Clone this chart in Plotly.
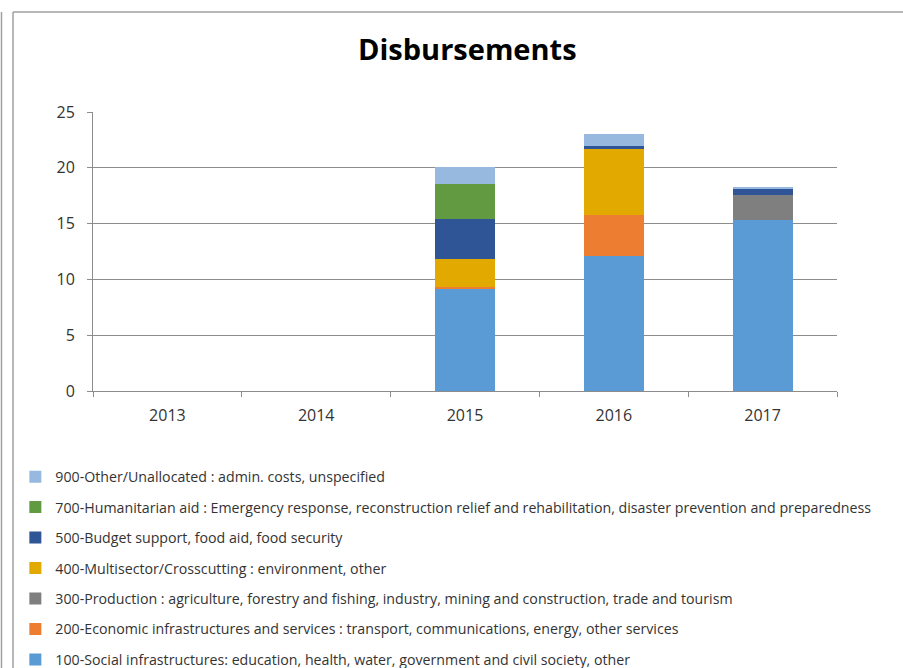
import plotly.graph_objects as go

# Disbursements by sector and year (millions)
years = ["2013", "2014", "2015", "2016", "2017"]

sectors = [
    "100-Social infrastructures: education, health, water, government and civil society, other",
    "200-Economic infrastructures and services : transport, communications, energy, other services",
    "300-Production : agriculture, forestry and fishing, industry, mining and construction, trade and tourism",
    "400-Multisector/Crosscutting : environment, other",
    "500-Budget support, food aid, food security",
    "700-Humanitarian aid : Emergency response, reconstruction relief and rehabilitation, disaster prevention and preparedness",
    "900-Other/Unallocated : admin. costs, unspecified",
]

social = [0, 0, 9.15, 12.07, 15.35]
economic = [0, 0, 0.20, 3.67, 0]
production = [0, 0, 0, 0, 2.22]
multisector = [0, 0, 2.48, 5.92, 0]
budget = [0, 0, 3.55, 0.27, 0.53]
humanitarian = [0, 0, 3.17, 0, 0]
other = [0, 0, 1.52, 1.07, 0.16]

series = [social, economic, production, multisector, budget, humanitarian, other]
colors = ["#5B9BD5", "#ED7D31", "#7F7F7F", "#E2AA00", "#2F5597", "#619A40", "#97B9E0"]

y_ticks = [0, 5, 10, 15, 20, 25]

fig = go.Figure()
n = len(sectors)
for i, (name, vals, col) in enumerate(zip(sectors, series, colors)):
    fig.add_trace(go.Bar(
        x=years, y=vals, name=name, marker_color=col,
        marker_line_width=0, legendgroup=name,
        legendrank=n - i,  # highest sector code listed first
    ))

grid = "#8C8C8C"
font_family = "Open Sans, sans-serif"

fig.update_layout(
    width=903, height=668,
    margin=dict(l=93, r=66, t=112, b=277, autoexpand=False),
    barmode="stack",
    bargap=0.596,
    paper_bgcolor="white",
    plot_bgcolor="white",
    font=dict(family=font_family, size=13, color="#333333"),
    title=dict(
        text="<b>Disbursements</b>",
        x=0.5175, xanchor="center", y=0.925, yanchor="middle",
        font=dict(family=font_family, size=29, color="black"),
    ),
    xaxis=dict(
        type="category", showgrid=False,
        showline=True, linecolor=grid, linewidth=1,
        ticks="outside", tickson="boundaries", ticklen=5, tickcolor=grid,
        ticklabelstandoff=10,
        tickfont=dict(size=16, color="#333333"),
    ),
    yaxis=dict(
        range=[0, 25], tickvals=y_ticks,
        showgrid=True, gridcolor=grid, gridwidth=1,
        showline=True, linecolor=grid, linewidth=1,
        ticks="outside", ticklen=5, tickcolor=grid,
        ticklabelstandoff=9,
        zeroline=False,
        tickfont=dict(size=16, color="#333333"),
    ),
    legend=dict(
        orientation="v",
        traceorder="grouped",
        tracegroupgap=9,
        x=0.017, xref="container", xanchor="left",
        y=0.310, yref="container", yanchor="top",
        font=dict(size=14.2, color="#333333"),
        bgcolor="rgba(0,0,0,0)",
    ),
    showlegend=True,
)

# Chart frame lines
frame = dict(color="#A0A0A0", width=1.5)
fig.add_shape(type="line", xref="paper", yref="paper",
              x0=-0.1075, x1=1.2, y0=1.358, y1=1.358, line=frame)
fig.add_shape(type="line", xref="paper", yref="paper",
              x0=-0.1075, x1=-0.1075, y0=1.358, y1=-1.1, line=frame)
fig.add_shape(type="line", xref="paper", yref="paper",
              x0=-0.123, x1=-0.123, y0=1.358, y1=-1.1, line=frame)

fig.write_html("out.html")
